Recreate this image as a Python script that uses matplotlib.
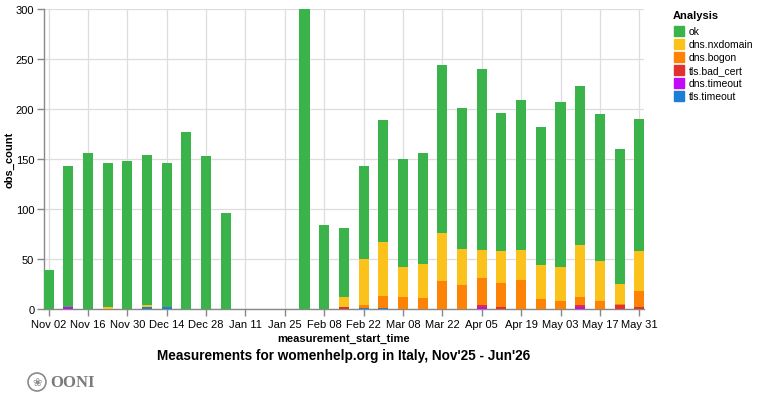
import matplotlib
matplotlib.use("Agg")
import matplotlib.pyplot as plt
import matplotlib.dates as mdates
import numpy as np
import datetime as dt

plt.rcParams['font.family'] = ['Liberation Sans', 'DejaVu Sans']

# weekly buckets, Nov 02 2025 .. May 31 2026
weeks = [dt.date(2025, 11, 2) + dt.timedelta(days=7 * i) for i in range(31)]

ok = [39, 141, 156, 144, 148, 150, 144, 177, 153, 96, 0, 0, 0, 300, 84, 69,
      93, 122, 108, 111, 168, 141, 181, 138, 150, 138, 165, 159, 147, 135, 132]
dns_nxdomain = [0, 0, 0, 2, 0, 2, 0, 0, 0, 0, 0, 0, 0, 0, 0, 10,
                46, 54, 30, 34, 48, 36, 28, 32, 30, 34, 34, 52, 40, 20, 40]
dns_bogon = [0, 0, 0, 0, 0, 0, 0, 0, 0, 0, 0, 0, 0, 0, 0, 0,
             3, 12, 12, 11, 28, 24, 27, 24, 29, 10, 8, 8, 8, 1, 16]
tls_bad_cert = [0, 0, 0, 0, 0, 0, 0, 0, 0, 0, 0, 0, 0, 0, 0, 2,
                0, 0, 0, 0, 0, 0, 2, 2, 0, 0, 0, 2, 0, 4, 2]
dns_timeout = [0, 2, 0, 0, 0, 0, 0, 0, 0, 0, 0, 0, 0, 0, 0, 0,
               0, 0, 0, 0, 0, 0, 2, 0, 0, 0, 0, 2, 0, 0, 0]
tls_timeout = [0, 0, 0, 0, 0, 2, 2, 0, 0, 0, 0, 0, 0, 0, 0, 0,
               1, 1, 0, 0, 0, 0, 0, 0, 0, 0, 0, 0, 0, 0, 0]

# legend order (top of stack first)
labels = ['ok', 'dns.nxdomain', 'dns.bogon', 'tls.bad_cert', 'dns.timeout', 'tls.timeout']
series = [ok, dns_nxdomain, dns_bogon, tls_bad_cert, dns_timeout, tls_timeout]
colors = ['#3bb34b', '#fcc21c', '#fd8205', '#e03131', '#c20cf7', '#1c7ed6']

fig = plt.figure(figsize=(7.57, 4.10), dpi=100)
ax = fig.add_axes([44 / 757, 100 / 410, 600 / 757, 300 / 410])

x = mdates.date2num(weeks)
bottom = np.zeros(len(weeks))
# stack from the bottom: reverse legend order
for lab, vals, col in reversed(list(zip(labels, series, colors))):
    v = np.array(vals, dtype=float)
    ax.bar(x, v, width=3.56, bottom=bottom, color=col, linewidth=0, zorder=3)
    bottom += v

ax.set_ylim(0, 300)
ax.set_yticks(np.arange(0, 301, 50))
ax.set_xlim(x[0] - 1.6, x[-1] + 1.68)
ax.set_xticks(x[::2])
ax.xaxis.set_major_formatter(mdates.DateFormatter('%b %d'))

ax.grid(True, color='#dddddd', linewidth=0.9, zorder=0)
for side in ['top', 'right']:
    ax.spines[side].set_visible(False)
for side in ['left', 'bottom']:
    ax.spines[side].set_color('#888888')
    ax.spines[side].set_linewidth(1)
ax.tick_params(axis='both', colors='#888888', length=5, width=1, labelsize=8,
               labelcolor='black', pad=2)

ax.set_ylabel('obs_count', fontsize=8, fontweight='bold')
ax.yaxis.set_label_coords(-29 / 600, 0.5)
ax.set_xlabel('measurement_start_time', fontsize=8, fontweight='bold', labelpad=3)

fig.text(344 / 757, 1 - 356 / 410, "Measurements for womenhelp.org in Italy, Nov'25 - Jun'26",
         ha='center', va='center', fontsize=9.8, fontweight='bold')

# legend
fig.text(673 / 757, 1 - 16 / 410, 'Analysis', fontsize=8, fontweight='bold',
         ha='left', va='center')
for i, (lab, col) in enumerate(zip(labels, colors)):
    yc = 32 + i * 13
    fig.patches.append(plt.Rectangle((674 / 757, 1 - (yc + 5) / 410), 10 / 757, 10 / 410,
                                     transform=fig.transFigure, color=col))
    fig.text(689 / 757, 1 - yc / 410, lab, fontsize=7.5, ha='left', va='center')

# OONI logo
fig.patches.append(matplotlib.patches.Ellipse((37 / 757, 1 - 383 / 410), 18 / 757, 18 / 410,
                                              transform=fig.transFigure, fill=False,
                                              edgecolor='#8a8a8a', linewidth=1.2))
fig.text(37 / 757, 1 - 383 / 410, '\u2740', fontsize=8, color='#8a8a8a',
         ha='center', va='center', family=['DejaVu Sans'])
fig.text(50 / 757, 1 - 383 / 410, 'OONI', fontsize=12, fontweight='bold',
         color='#7a7a7a', ha='left', va='center', family=['Liberation Serif', 'DejaVu Serif'])

fig.savefig('out.png', dpi=100)
